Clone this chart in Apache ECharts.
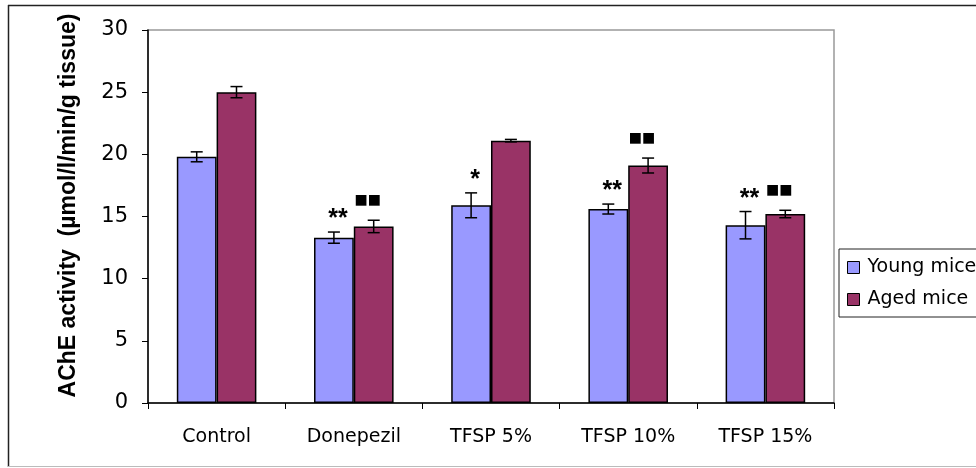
<!DOCTYPE html>
<html>
<head>
<meta charset="utf-8">
<script src="https://cdn.jsdelivr.net/npm/echarts@6/dist/echarts.min.js"></script>
<style>
  html, body { margin: 0; padding: 0; background: #fff; }
  #chart { width: 976px; height: 468px; }
</style>
</head>
<body>
<div id="chart"></div>
<script>
// AChE activity by treatment group, young vs aged mice (mean ± error)
const categories = ['Control', 'Donepezil', 'TFSP 5%', 'TFSP 10%', 'TFSP 15%'];
const youngMean = [19.8, 13.3, 15.9, 15.6, 14.3];
const youngErr = [0.4, 0.45, 1.0, 0.4, 1.1];
const agedMean = [25.0, 14.2, 21.1, 19.1, 15.2];
const agedErr = [0.45, 0.5, 0.1, 0.6, 0.3];
const youngMarks = ['', '**', '*', '**', '**'];
const agedMarks = ['', '\u25A0\u25A0', '', '\u25A0\u25A0', '\u25A0\u25A0'];
const yTicks = [0, 5, 10, 15, 20, 25, 30];

const FONT = 'Liberation Sans, Arial, sans-serif';
const WIDE = 'DejaVu Sans, Liberation Sans, sans-serif';
const CAT_GAP = 0.42;

const chart = echarts.init(document.getElementById('chart'), null, { renderer: 'canvas' });

// side: -1 for the young bar (left of centre), +1 for the aged bar
function errorRenderer(side) {
  return function (params, api) {
    const idx = api.value(0);
    const mean = api.value(1);
    const err = api.value(2);
    const mark = api.value(3);
    const band = api.size([1, 0])[0];
    const barW = band * (1 - CAT_GAP) / 2;
    const c = api.coord([idx, mean]);
    const x = c[0] + side * barW / 2;
    const top = api.coord([idx, mean + err])[1];
    const bot = api.coord([idx, mean - err])[1];
    const cap = 6;
    const style = { stroke: '#000', lineWidth: 1.5 };
    const children = [
      { type: 'line', shape: { x1: x, y1: top, x2: x, y2: bot }, style: style },
      { type: 'line', shape: { x1: x - cap, y1: top, x2: x + cap, y2: top }, style: style },
      { type: 'line', shape: { x1: x - cap, y1: bot, x2: x + cap, y2: bot }, style: style }
    ];
    if (mark) {
      const star = side < 0;
      children.push({
        type: 'text',
        style: {
          text: mark,
          x: x + (star ? 4 : -6),
          y: top - (star ? 0 : 13),
          align: 'center',
          verticalAlign: 'bottom',
          font: star ? 'bold 25px ' + FONT : '14px DejaVu Sans',
          fill: '#000'
        }
      });
    }
    return { type: 'group', children: children };
  };
}

const youngErrData = categories.map((c, i) => [i, youngMean[i], youngErr[i], youngMarks[i]]);
const agedErrData = categories.map((c, i) => [i, agedMean[i], agedErr[i], agedMarks[i]]);

chart.setOption({
  animation: false,
  backgroundColor: '#fff',
  textStyle: { fontFamily: FONT },
  graphic: [
    { type: 'line', shape: { x1: 8, y1: 5.5, x2: 976, y2: 5.5 }, style: { stroke: '#222', lineWidth: 1.5 } },
    { type: 'line', shape: { x1: 8.5, y1: 5, x2: 8.5, y2: 467 }, style: { stroke: '#222', lineWidth: 1.5 } },
    { type: 'line', shape: { x1: 8, y1: 466.5, x2: 976, y2: 466.5 }, style: { stroke: '#bbb', lineWidth: 1 } }
  ],
  grid: {
    left: 148, right: 142, top: 30, bottom: 65,
    show: true, borderColor: '#999', borderWidth: 1.5, backgroundColor: '#fff'
  },
  legend: {
    orient: 'vertical',
    left: 839, top: 249,
    padding: [9, 20, 8, 8],
    icon: 'rect',
    itemWidth: 12, itemHeight: 12, itemGap: 13,
    borderColor: '#222', borderWidth: 1,
    backgroundColor: '#fff',
    textStyle: { fontSize: 19, color: '#000', fontFamily: WIDE, padding: [0, 0, 0, 3] },
    data: [
      { name: 'Young mice', itemStyle: { color: '#9999FF', borderColor: '#000', borderWidth: 1 } },
      { name: 'Aged mice', itemStyle: { color: '#993366', borderColor: '#000', borderWidth: 1 } }
    ]
  },
  xAxis: {
    type: 'category',
    data: categories,
    axisLine: { lineStyle: { color: '#000', width: 1.5 } },
    axisTick: { show: true, length: 6, alignWithLabel: false, lineStyle: { color: '#000' } },
    axisLabel: { color: '#000', fontSize: 19, margin: 25, fontFamily: WIDE },
    splitLine: { show: false }
  },
  yAxis: {
    type: 'value',
    min: yTicks[0], max: yTicks[yTicks.length - 1], interval: 5,
    name: 'AChE activity  (\u00B5mol/l/min/g tissue)',
    nameLocation: 'middle',
    nameGap: 68,
    nameTextStyle: { fontSize: 23, fontWeight: 'bold', color: '#000', fontFamily: FONT, padding: [0, 0, 0, 22] },
    axisLine: { show: true, lineStyle: { color: '#000', width: 1.5 } },
    axisTick: { show: true, length: 6, lineStyle: { color: '#000' } },
    axisLabel: { color: '#000', fontSize: 21, margin: 20, fontFamily: WIDE },
    splitLine: { show: false }
  },
  series: [
    {
      name: 'Young mice', type: 'bar', data: youngMean,
      barGap: 0, barCategoryGap: (CAT_GAP * 100) + '%',
      itemStyle: { color: '#9999FF', borderColor: '#000', borderWidth: 1.5 }
    },
    {
      name: 'Aged mice', type: 'bar', data: agedMean,
      barGap: 0, barCategoryGap: (CAT_GAP * 100) + '%',
      itemStyle: { color: '#993366', borderColor: '#000', borderWidth: 1.5 }
    },
    {
      type: 'custom', renderItem: errorRenderer(-1), data: youngErrData, z: 5,
      encode: { x: 0, y: 1 }, silent: true
    },
    {
      type: 'custom', renderItem: errorRenderer(1), data: agedErrData, z: 5,
      encode: { x: 0, y: 1 }, silent: true
    }
  ]
});
</script>
</body>
</html>
